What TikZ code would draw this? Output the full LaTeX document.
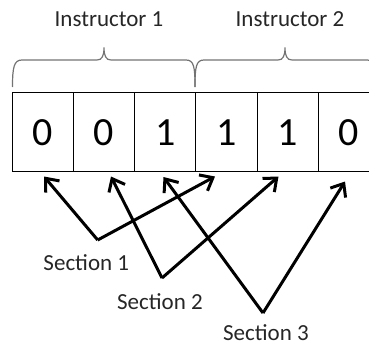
\documentclass[tikz,border=0pt]{standalone}
\usepackage{fontspec}
\setmainfont{Carlito}
\usetikzlibrary{arrows.meta}
\tikzset{
  cell/.style={draw=black, line width=0.9pt, minimum width=61.2pt, minimum height=79.5pt,
               inner sep=0pt, outer sep=0pt, anchor=north west},
  digit/.style={font=\fontsize{40}{44}\selectfont, text=black, anchor=base, inner sep=0pt},
  label/.style={font=\fontsize{23}{27}\selectfont, text=black!85, anchor=base, inner sep=0pt},
  bracket/.style={draw=black!55, line width=1.2pt},
  link/.style={draw=black, line width=3pt, line join=miter,
               -{Straight Barb[length=11pt,width=18pt]}}
}
\begin{document}
\begin{tikzpicture}[x=1pt,y=-1pt]
\useasboundingbox (0,0) rectangle (369,345);
\clip (0,0) rectangle (369,345);

% group headings
\node[label] (i1) at (109,26.7) {Instructor 1};
\node[label] (i2) at (290,26.7) {Instructor 2};

% braces over the two groups of cells
\path[bracket] (12.5,87) .. controls (12.5,67) and (14,60) .. (22,60) -- (97,60)
  .. controls (102,60) and (104,56) .. (104,47.5)
  .. controls (104,56) and (106,60) .. (111,60) -- (186,60)
  .. controls (194,60) and (195,67) .. (195,87);
\path[bracket] (195,87) .. controls (195,67) and (196,60) .. (204,60) -- (278,60)
  .. controls (283,60) and (285,56) .. (285,47.5)
  .. controls (285,56) and (287,60) .. (292,60) -- (367,60)
  .. controls (375,60) and (376,67) .. (376,87);

% the six cells
\foreach \v [count=\i from 0] in {0,0,1,1,1,0} {
  \node[cell] (c\i) at (12.3+61.2*\i,92) {};
  \node[digit] (d\i) at (42.9+61.2*\i,145.5) {\v};
}

% section labels
\node[label] (s1) at (86.3,270) {Section 1};
\node[label] (s2) at (160,309) {Section 2};
\node[label] (s3) at (266,340) {Section 3};

% arrow vertices and targets
\coordinate (v1) at (97.7,240);
\coordinate (v2) at (162,278);
\coordinate (v3) at (263,313);
\coordinate (t1a) at (44,176.5);
\coordinate (t1b) at (215,176.5);
\coordinate (t2a) at (111,176.5);
\coordinate (t2b) at (278.5,176.5);
\coordinate (t3a) at (163.5,177);
\coordinate (t3b) at (345,181.5);

\draw[link] (v1) -- (t1a);
\draw[link] (v1) -- (t1b);
\draw[link] (v2) -- (t2a);
\draw[link] (v2) -- (t2b);
\draw[link] (v3) -- (t3a);
\draw[link] (v3) -- (t3b);
\end{tikzpicture}
\end{document}
